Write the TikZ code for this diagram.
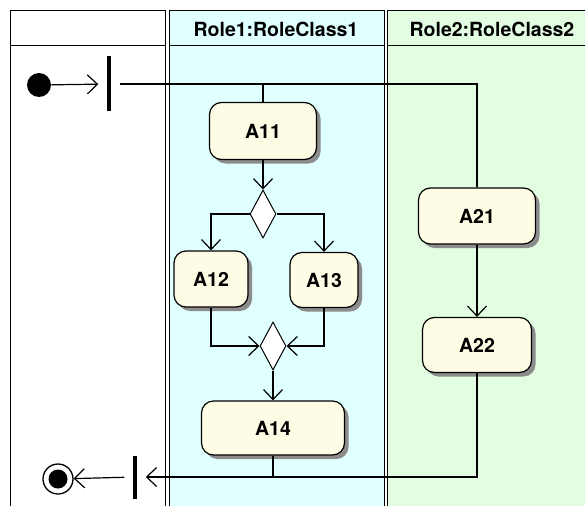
\documentclass[tikz,border=0pt]{standalone}
\usepackage{fontspec}
\setmainfont{TeX Gyre Heros}
\usepackage{tikz}
\usetikzlibrary{shapes.geometric}
\usetikzlibrary{shadows}
\usetikzlibrary{arrows.meta}
\definecolor{laneone}{RGB}{224,255,255}
\definecolor{lanetwo}{RGB}{226,253,226}
\definecolor{actfill}{RGB}{255,252,230}
\begin{document}
\begin{tikzpicture}[x=1pt,y=-1pt,line width=1pt,
    >={Straight Barb[length=10pt,width=19pt]},
    action/.style={draw,line width=1.2pt,rounded corners=12pt,fill=actfill,inner sep=0pt,
        drop shadow={shadow xshift=4pt,shadow yshift=-4pt,fill=black!45,opacity=1},
        font=\fontsize{19.5}{22}\selectfont\bfseries},
    decision/.style={draw,line width=1pt,diamond,fill=white,inner sep=0pt,minimum width=26pt,minimum height=48pt},
    bar/.style={fill=black,inner sep=0pt,minimum width=3.5pt,outer xsep=9pt},
    flow/.style={line width=1.2pt}]
            \useasboundingbox (0,0) rectangle (585,505);
            \clip (0,0) rectangle (585,505);
            \draw[fill=white] (10,11) rectangle (165,512);
            \draw (10,46) -- (165,46);
            \draw[fill=laneone] (169,11) rectangle (384,512);
            \draw (169,46) -- (384,46);
            \draw[fill=lanetwo] (387,11) rectangle (600,512);
            \draw (387,46) -- (600,46);
            \node[font=\fontsize{19.5}{22}\selectfont\bfseries] (role1) at (276,29) {Role1:RoleClass1};
            \node[font=\fontsize{19.5}{22}\selectfont\bfseries] (role2) at (492,29) {Role2:RoleClass2};
            \node[circle,fill=black,inner sep=0pt,minimum size=24pt] (start) at (39,85) {};
            \node[bar,minimum height=55pt] (fork) at (109,84) {};
            \node[action,minimum width=107pt,minimum height=57pt] (A11) at (263,131) {A11};
            \node[decision] (dec) at (263,214) {};
            \node[action,minimum width=74pt,minimum height=56pt] (A12) at (211,279) {A12};
            \node[action,minimum width=68pt,minimum height=55pt] (A13) at (324,280) {A13};
            \node[decision] (merge) at (273,346) {};
            \node[action,minimum width=143pt,minimum height=54pt] (A14) at (273,428) {A14};
            \node[action,minimum width=117pt,minimum height=56pt] (A21) at (477,216) {A21};
            \node[action,minimum width=109pt,minimum height=55pt] (A22) at (477,345) {A22};
            \node[bar,minimum height=43pt] (join) at (135,477) {};
            \node[circle,draw,line width=1.3pt,fill=white,inner sep=0pt,minimum size=30pt] (final) at (58,479) {};
            \node[circle,fill=black,inner sep=0pt,minimum size=19pt] (finaldot) at (final) {};
            \draw[->,flow] (start) -- (fork);
            \draw[flow] (fork) -| (A11);
            \draw[flow] (fork) -| (A21);
            \draw[->,flow] (A11) -- (dec);
            \draw[->,flow] (dec) -| (A12);
            \draw[->,flow] (dec) -| (A13);
            \draw[->,flow] (A12) |- (merge);
            \draw[->,flow] (A13) |- (merge);
            \draw[->,flow] (merge) -- (A14);
            \draw[->,flow] (A21) -- (A22);
            \draw[->,flow] (A22) |- (join);
            \draw[flow] (A14) -- (A14 |- join);
            \draw[->,flow] (join) -- (final);
\end{tikzpicture}
\end{document}
